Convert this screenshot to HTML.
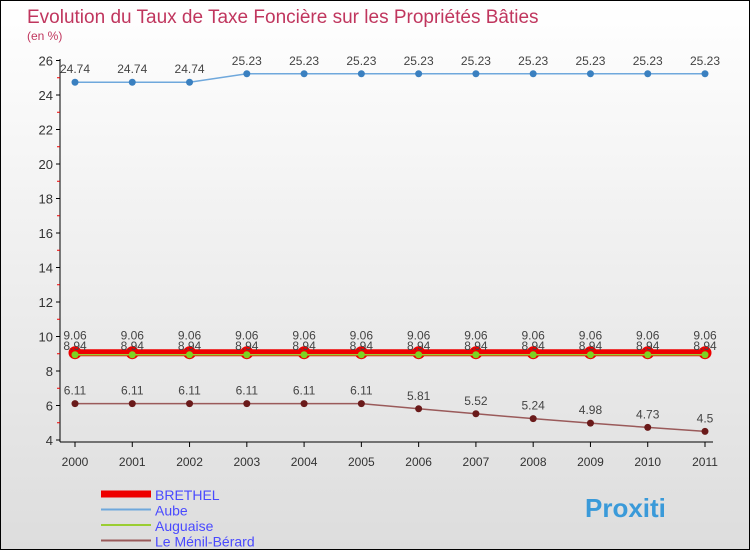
<!DOCTYPE html>
<html><head><meta charset="utf-8"><style>
body{margin:0}
#c{width:748px;height:548px;border:1px solid #000;background:linear-gradient(#fff,#ddd);position:relative;font-family:"Liberation Sans",sans-serif;overflow:hidden}
</style></head><body>
<div id="c">
<svg id="s" width="748" height="548" xmlns="http://www.w3.org/2000/svg">
<text x="26" y="22" font-size="19" fill="#c0365e">Evolution du Taux de Taxe Foncière sur les Propriétés Bâties</text>
<text x="26" y="39" font-size="12" fill="#c0365e">(en %)</text>
<g id="g"></g>
</svg>
</div>
<script>
const years=[2000,2001,2002,2003,2004,2005,2006,2007,2008,2009,2010,2011];
const yTicks=[4,6,8,10,12,14,16,18,20,22,24,26];
const aube=[24.74,24.74,24.74,25.23,25.23,25.23,25.23,25.23,25.23,25.23,25.23,25.23];
const brethel=[9.06,9.06,9.06,9.06,9.06,9.06,9.06,9.06,9.06,9.06,9.06,9.06];
const auguaise=[8.94,8.94,8.94,8.94,8.94,8.94,8.94,8.94,8.94,8.94,8.94,8.94];
const menil=[6.11,6.11,6.11,6.11,6.11,6.11,5.81,5.52,5.24,4.98,4.73,4.5];
const X=i=>74+i*(630/11);
const Y=v=>439-(v-4)*17.25;
const g=document.getElementById('g');const NS='http://www.w3.org/2000/svg';
function el(t,a,name){const e=document.createElementNS(NS,t);for(const k in a)e.setAttribute(k,a[k]);


g.appendChild(e);return e;}
el('line',{x1:59,y1:58,x2:59,y2:441,stroke:'#000'},'y-axis');
el('line',{x1:59,y1:441,x2:712,y2:441,stroke:'#000'},'x-axis');
yTicks.forEach(v=>{el('line',{x1:55,y1:Y(v),x2:59,y2:Y(v),stroke:'#000'},'y-tick');
if(v<26)el('line',{x1:56,y1:Y(v+1),x2:59,y2:Y(v+1),stroke:'#e00'},'y-minor-tick');
const t=el('text',{x:52,y:Y(v)+5,'text-anchor':'end','font-size':13,fill:'#333'},'y-tick-label');t.textContent=v;});
years.forEach((y,i)=>{el('line',{x1:X(i),y1:441,x2:X(i),y2:446,stroke:'#000'},'x-tick');
const t=el('text',{x:X(i),y:465,'text-anchor':'middle','font-size':12,fill:'#333'},'x-tick-label');t.textContent=y;});
function series(d,col,w,mc,mr,name,dy,stroke){
el('polyline',{points:d.map((v,i)=>X(i)+','+Y(v)).join(' '),fill:'none',stroke:col,'stroke-width':w},name+'-line');
d.forEach((v,i)=>{el('circle',{cx:X(i),cy:Y(v),r:mr,fill:mc,stroke:stroke||'none'},name+'-point');
if(dy!==null){const t=el('text',{x:X(i),y:Y(v)+dy,'text-anchor':'middle','font-size':12,fill:'#444'},name+'-value');t.textContent=v;}});}
series(aube,'#6fa8dc',1.5,'#3a80c0',3.5,'aube',-9);
series(menil,'#9a5a5a',1.5,'#6a1a1a',3.5,'menil',-9);
series(brethel,'#e00',7,'#e00',6.5,'brethel',-13);
series(auguaise,'#9acd32',1.5,'#7ed321',3.5,'auguaise',-5);
const leg=[['BRETHEL','#e00',7],['Aube','#6fa8dc',2],['Auguaise','#9acd32',2],['Le Ménil-Bérard','#9a5a5a',2]];
leg.forEach((l,i)=>{const y=493+i*15.5;
el('line',{x1:100,y1:y,x2:150,y2:y,stroke:l[1],'stroke-width':l[2]},'legend-swatch');
const t=el('text',{x:154,y:y+6,'font-size':14,fill:'#4a4aff'},'legend-entry');t.textContent=l[0];});
const p=el('text',{x:584,y:516,'font-size':26,'font-weight':'bold',fill:'#3a9ad9'},'proxiti-logo');p.textContent='Proxiti';
</script>
</body></html>
